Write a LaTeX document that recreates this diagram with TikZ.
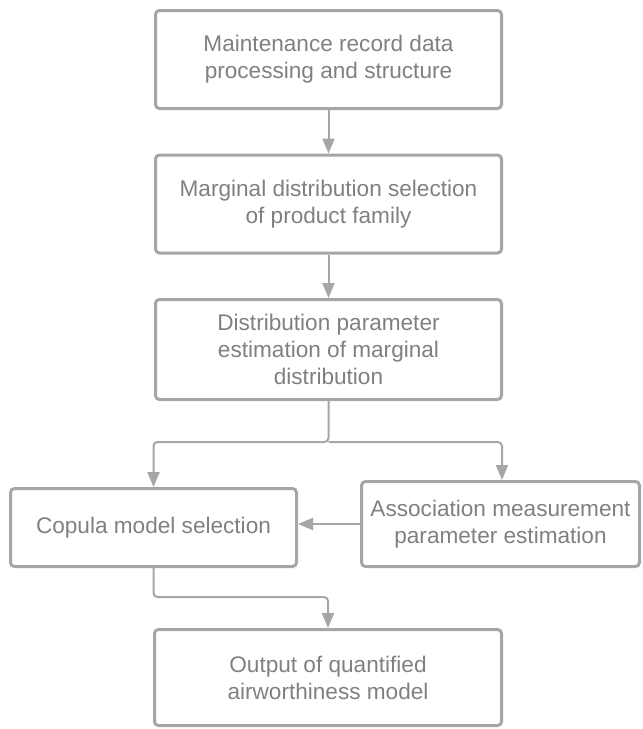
\documentclass[tikz,border=0pt]{standalone}
\usepackage{fontspec}
\setmainfont{Liberation Sans}
\usetikzlibrary{arrows.meta,positioning,calc}
\definecolor{flowline}{RGB}{166,166,166}
\definecolor{flowtext}{RGB}{128,128,128}
\tikzset{
  procbox/.style={draw=flowline, line width=3pt, rounded corners=4pt, align=center,
    text=flowtext, font=\fontsize{22.6}{27}\selectfont, inner sep=0pt,
    minimum width=346pt, minimum height=98pt},
  flow/.style={-{Triangle[length=15pt, width=12pt]}, line width=2pt, draw=flowline,
    rounded corners=4pt}
}

\begin{document}
\begin{tikzpicture}[x=1pt, y=-1pt, node distance=43.5pt]
  \useasboundingbox (0,0) rectangle (643,729);
  \node[procbox] (records) at (328.5,59.5)
    {Maintenance record data\\processing and structure};
  \node[procbox, below=of records] (marginal)
    {Marginal distribution selection\\of product family};
  \node[procbox, minimum height=100pt, below=of marginal] (estimate)
    {Distribution parameter\\estimation of marginal\\distribution};
  \node[procbox, minimum width=286pt, minimum height=78pt] (copula) at (153.5,527.5)
    {Copula model selection};
  \node[procbox, minimum width=278pt, minimum height=85pt] (assoc) at (500.5,524)
    {Association measurement\\parameter estimation};
  \node[procbox, minimum width=347pt, minimum height=96pt] (output) at (328,677.5)
    {Output of quantified\\airworthiness model};
  \coordinate (split) at ($(estimate.south)+(0,41)$);
  \draw[flow] (records) -- (marginal);
  \draw[flow] (marginal) -- (estimate);
  \draw[flow] (estimate.south) -- (split) -| (copula.north);
  \draw[flow] (split) -| ([xshift=1.5pt]assoc.north);
  \draw[flow] (assoc.west) -- (assoc.west -| copula.east);
  \draw[flow] (copula.south) -- ++(0,29) -| (output.north);
\end{tikzpicture}
\end{document}
